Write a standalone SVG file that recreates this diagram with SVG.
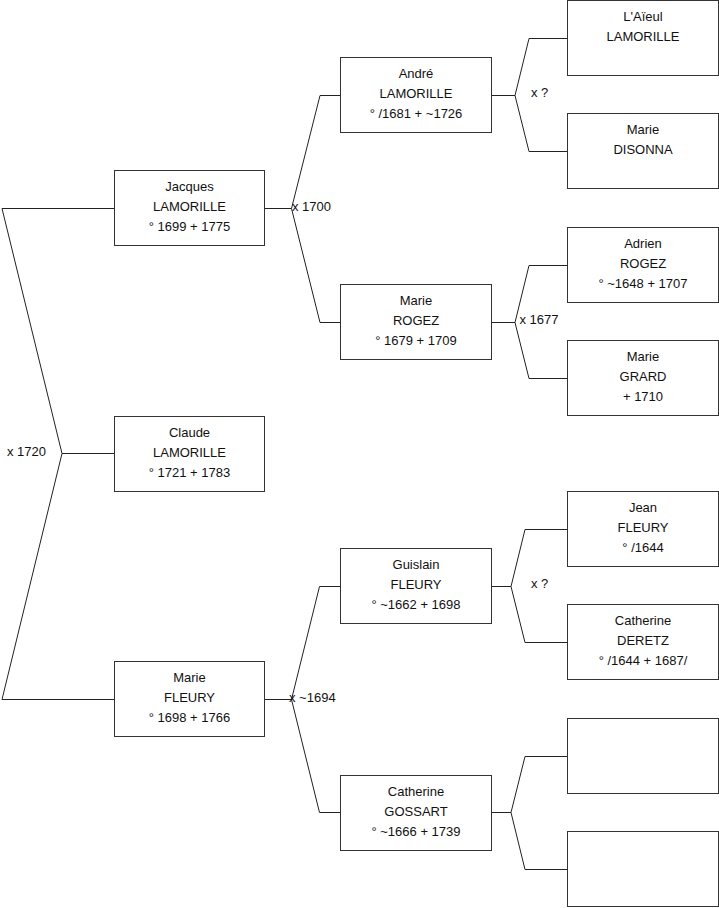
<svg xmlns="http://www.w3.org/2000/svg" width="719" height="908" viewBox="0 0 719 908">
<style>
.box{fill:#fff;stroke:#333;stroke-width:1}
.t{font-family:"Liberation Sans",Arial,sans-serif;font-size:13px;fill:#111;text-anchor:middle}
.l{font-family:"Liberation Sans",Arial,sans-serif;font-size:13px;fill:#111}
.c{fill:none;stroke:#222;stroke-width:1}
</style>
<rect width="719" height="908" fill="#fff"/>
<g id="connectors">
<path class="c" d="M114.5,208.5 H2 L62,453.5 L2,699.5 H114.5 M62,453.5 H114.5"/>
<path class="c" d="M264.5,208.5 H291.5 L320,95.5 H340.5 M291.5,208.5 L320,322.5 H340.5"/>
<path class="c" d="M491.5,95.5 H515 L529,38.5 H567.5 M515,95.5 L529,151.5 H567.5"/>
<path class="c" d="M491.5,322.5 H515 L529,265.5 H567.5 M515,322.5 L529,378.5 H567.5"/>
<path class="c" d="M491.5,586.5 H511 L525,529.5 H567.5 M511,586.5 L525,642.5 H567.5"/>
<path class="c" d="M264.5,699.5 H291.5 L319.5,586.5 H340.5 M291.5,699.5 L319.5,812.5 H340.5"/>
<path class="c" d="M491.5,812.5 H511 L525,756.5 H567.5 M511,812.5 L525,869.5 H567.5"/>
<text class="l" x="7" y="456">x 1720</text>
<text class="l" x="292" y="211">x 1700</text>
<text class="l" x="531" y="97">x ?</text>
<text class="l" x="519.5" y="323.5">x 1677</text>
<text class="l" x="531" y="588">x ?</text>
<text class="l" x="289" y="702">x ~1694</text>
</g>
<g id="jacques"><rect class="box" x="114.5" y="170.5" width="150" height="75"/><text class="t" x="189.5" y="191">Jacques</text><text class="t" x="189.5" y="211">LAMORILLE</text><text class="t" x="189.5" y="231">° 1699 + 1775</text></g>
<g id="claude"><rect class="box" x="114.5" y="416.5" width="150" height="75"/><text class="t" x="189.5" y="437">Claude</text><text class="t" x="189.5" y="457">LAMORILLE</text><text class="t" x="189.5" y="477">° 1721 + 1783</text></g>
<g id="marie-fleury"><rect class="box" x="114.5" y="661.5" width="150" height="75"/><text class="t" x="189.5" y="682">Marie</text><text class="t" x="189.5" y="702">FLEURY</text><text class="t" x="189.5" y="722">° 1698 + 1766</text></g>
<g id="andre"><rect class="box" x="340.5" y="57.5" width="151" height="75"/><text class="t" x="416" y="78">André</text><text class="t" x="416" y="98">LAMORILLE</text><text class="t" x="416" y="118">° /1681 + ~1726</text></g>
<g id="marie-rogez"><rect class="box" x="340.5" y="284.5" width="151" height="75"/><text class="t" x="416" y="305">Marie</text><text class="t" x="416" y="325">ROGEZ</text><text class="t" x="416" y="345">° 1679 + 1709</text></g>
<g id="guislain"><rect class="box" x="340.5" y="548.5" width="151" height="75"/><text class="t" x="416" y="569">Guislain</text><text class="t" x="416" y="589">FLEURY</text><text class="t" x="416" y="609">° ~1662 + 1698</text></g>
<g id="catherine-gossart"><rect class="box" x="340.5" y="775.5" width="151" height="75"/><text class="t" x="416" y="796">Catherine</text><text class="t" x="416" y="816">GOSSART</text><text class="t" x="416" y="836">° ~1666 + 1739</text></g>
<g id="aieul"><rect class="box" x="567.5" y="0.5" width="151" height="75"/><text class="t" x="643" y="21">L'Aïeul</text><text class="t" x="643" y="41">LAMORILLE</text></g>
<g id="marie-disonna"><rect class="box" x="567.5" y="113.5" width="151" height="75"/><text class="t" x="643" y="134">Marie</text><text class="t" x="643" y="154">DISONNA</text></g>
<g id="adrien"><rect class="box" x="567.5" y="227.5" width="151" height="75"/><text class="t" x="643" y="248">Adrien</text><text class="t" x="643" y="268">ROGEZ</text><text class="t" x="643" y="288">° ~1648 + 1707</text></g>
<g id="marie-grard"><rect class="box" x="567.5" y="340.5" width="151" height="75"/><text class="t" x="643" y="361">Marie</text><text class="t" x="643" y="381">GRARD</text><text class="t" x="643" y="401"> + 1710</text></g>
<g id="jean"><rect class="box" x="567.5" y="491.5" width="151" height="75"/><text class="t" x="643" y="512">Jean</text><text class="t" x="643" y="532">FLEURY</text><text class="t" x="643" y="552">° /1644</text></g>
<g id="catherine-deretz"><rect class="box" x="567.5" y="604.5" width="151" height="75"/><text class="t" x="643" y="625">Catherine</text><text class="t" x="643" y="645">DERETZ</text><text class="t" x="643" y="665">° /1644 + 1687/</text></g>
<g id="empty-1"><rect class="box" x="567.5" y="718.5" width="151" height="75"/></g>
<g id="empty-2"><rect class="box" x="567.5" y="831.5" width="151" height="75"/></g>
</svg>
